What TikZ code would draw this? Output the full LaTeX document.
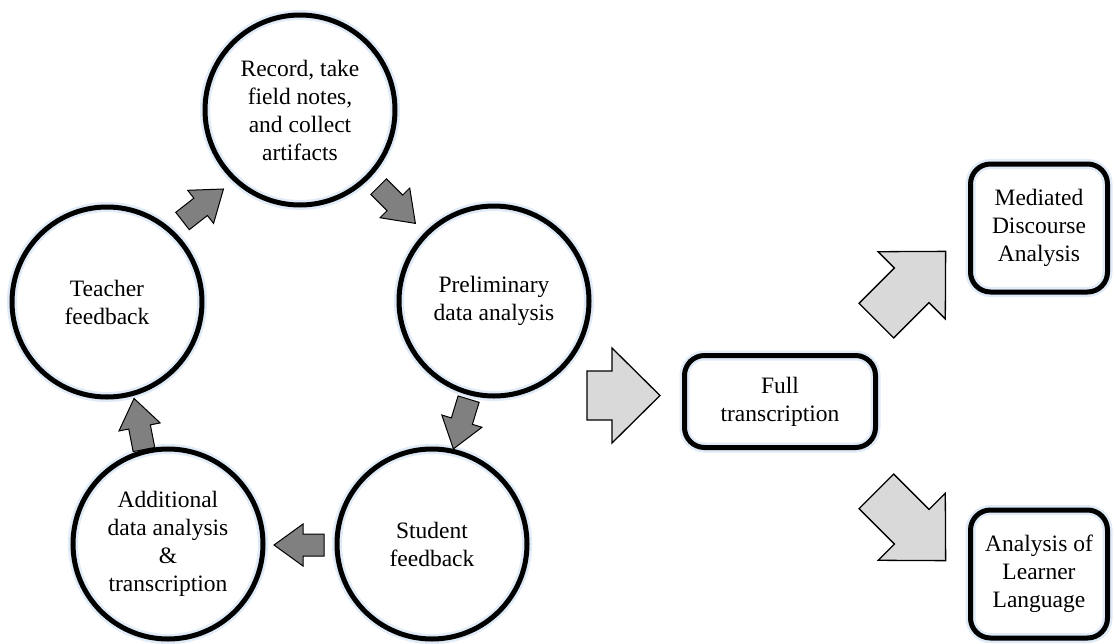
\documentclass[tikz,border=0pt]{standalone}
\usepackage{fontspec}
\setmainfont{Liberation Serif}
\definecolor{darkarrow}{RGB}{128,128,128}
\definecolor{lightarrow}{RGB}{217,217,217}
\definecolor{halo}{RGB}{224,235,247}
\tikzset{
  % block arrow pointing along +x, centred on the origin:
  % #1 total length, #2 head length, #3 half head width, #4 half shaft width
  pics/blockarrow/.style n args={4}{code={
    \path[pic actions]
      ({-0.5*#1*1pt},{#4*1pt}) -- ({(0.5*#1-#2)*1pt},{#4*1pt})
      -- ({(0.5*#1-#2)*1pt},{#3*1pt}) -- ({0.5*#1*1pt},0pt)
      -- ({(0.5*#1-#2)*1pt},{-#3*1pt}) -- ({(0.5*#1-#2)*1pt},{-#4*1pt})
      -- ({-0.5*#1*1pt},{-#4*1pt}) -- cycle;
  }},
  labelfont/.style={font=\fontsize{23.5}{28}\selectfont},
  stage/.style={circle, draw=black, line width=5pt, minimum size=190pt,
    inner sep=0pt, align=center, labelfont,
    preaction={draw=halo, line width=10pt}},
  result/.style={rectangle, rounded corners=20pt, draw=black, line width=5pt,
    inner sep=0pt, align=center, labelfont,
    preaction={draw=halo, line width=10pt}},
  cyclearrow/.style={draw=black, fill=darkarrow, line width=1pt, line join=miter},
  outarrow/.style={draw=black, fill=lightarrow, line width=1.3pt, line join=miter},
}
\begin{document}
\begin{tikzpicture}[x=1pt, y=-1pt]
\useasboundingbox[fill=white] (0,0) rectangle (1114,643);

% the five stages of the cycle
\node[stage] (record)  at (300,110) {Record, take\\field notes,\\and collect\\artifacts};
\node[stage] (prelim)  at (494,301) {Preliminary\\data analysis};
\node[stage] (student) at (432,544) {Student\\feedback};
\node[stage] (addl)    at (168,544) {Additional\\data analysis\\\&\\transcription};
\node[stage] (teacher) at (107,302) {Teacher\\feedback};

% arrows running round the cycle
\pic (c1) [cyclearrow, rotate=38]   at (203,205) {blockarrow={52}{29}{21}{11}};
\pic (c2) [cyclearrow, rotate=-45]  at (397,205) {blockarrow={52}{29}{21}{11}};
\pic (c3) [cyclearrow, rotate=-107] at (461,424) {blockarrow={52}{29}{21}{11}};
\pic (c4) [cyclearrow, rotate=180]  at (299,545) {blockarrow={50}{29}{21}{11}};
\pic (c5) [cyclearrow, rotate=101]  at (139,424) {blockarrow={52}{29}{21}{11}};

% outcome boxes
\node[result, minimum width=191pt, minimum height=92pt] (full) at (780,401.5) {Full\\transcription};
\node[result, minimum width=137pt, minimum height=128pt] (mda) at (1039,228) {Mediated\\Discourse\\Analysis};
\node[result, minimum width=137pt, minimum height=128pt] (all) at (1039,574) {Analysis of\\Learner\\Language};

% arrows leading out to the outcomes
\pic (o1) [outarrow]             at (623.5,395.5) {blockarrow={73}{48}{47.5}{24.5}};
\pic (o2) [outarrow, rotate=45]  at (911,286) {blockarrow={98}{48}{47.5}{24.5}};
\pic (o3) [outarrow, rotate=-45] at (911,526) {blockarrow={98}{48}{47.5}{24.5}};
\end{tikzpicture}
\end{document}
